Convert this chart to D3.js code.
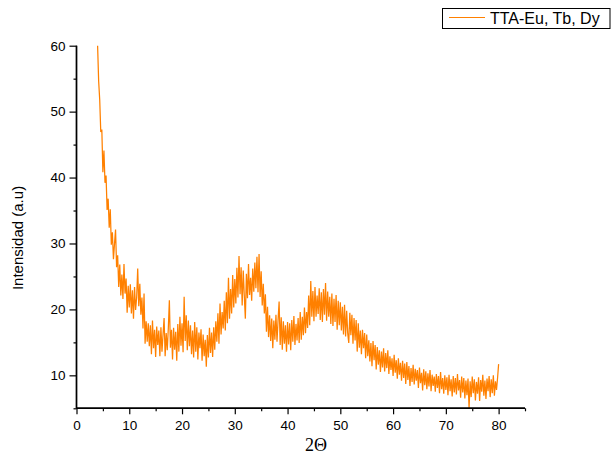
<!DOCTYPE html>
<html><head><meta charset="utf-8">
<script src="https://cdn.jsdelivr.net/npm/d3@7"></script>
<style>body{margin:0;background:#fff}svg{display:block}</style>
</head><body>
<svg id="c" width="611" height="454"></svg>
<script>
const seriesName = "TTA-Eu, Tb, Dy";
const xStart = 4.0, xStep = 0.2;
const intensity = [
60.0,54.6,51.8,46.9,47.3,40.8,44.1,39.2,40.3,35.1,
36.8,32.4,35.2,29.8,31.7,27.6,29.9,32.1,26.4,28.2,
23.4,26.8,22.1,25.3,21.6,26.9,22.4,24.7,19.5,23.6,
20.3,23.8,19.4,22.9,18.6,23.4,19.9,21.8,26.2,20.5,
23.9,19.2,21.8,17.1,22.4,14.8,18.2,15.1,17.9,14.4,
17.6,13.2,18.3,14.1,16.9,12.8,17.4,14.6,16.8,12.9,
17.3,13.6,16.2,18.7,12.9,16.4,13.8,17.1,21.4,14.2,
16.9,12.4,17.2,13.9,16.6,12.2,17.8,13.6,18.9,14.5,
17.9,13.5,21.9,15.2,19.1,13.8,18.3,14.4,17.6,13.2,
16.8,12.7,18.1,13.6,17.3,12.4,16.5,14.1,17.0,12.2,
16.2,12.9,15.4,11.3,16.1,12.7,17.2,13.4,16.5,12.8,
17.3,13.9,18.2,15.1,19.4,14.8,20.9,16.2,19.6,17.1,
21.3,16.8,22.6,17.9,24.8,18.6,23.1,19.4,25.2,20.3,
24.6,20.9,26.3,21.8,28.1,22.3,26.4,20.6,25.9,22.1,
18.6,25.4,21.7,26.9,22.2,24.8,21.3,26.2,22.7,27.1,
23.2,28.0,22.6,28.4,21.9,25.8,20.6,23.9,19.4,22.3,
16.6,20.4,15.8,19.1,15.2,18.6,14.1,18.3,15.4,19.2,
15.1,18.4,21.2,14.6,18.8,13.9,18.2,14.8,17.6,13.6,
18.1,14.7,17.9,13.8,18.4,15.1,19.0,14.6,17.8,15.3,
18.7,14.9,19.6,15.4,18.9,16.1,20.3,16.4,19.6,17.2,
22.1,17.6,24.3,18.9,22.8,18.2,23.4,18.9,22.1,19.3,
23.2,18.4,22.6,18.1,23.1,19.2,24.0,18.3,22.7,18.9,
21.9,17.8,22.4,17.5,21.6,18.1,22.2,16.9,21.3,17.6,
21.1,16.8,20.4,16.2,20.7,15.9,19.8,16.4,14.9,19.5,
16.1,19.2,14.8,18.7,15.3,18.4,13.6,17.9,14.2,16.8,
13.2,16.9,14.1,16.4,12.6,16.2,12.9,15.3,12.1,14.9,
11.4,15.2,12.3,14.6,10.9,14.3,11.6,13.8,10.5,13.6,
11.2,14.1,10.6,13.4,11.1,13.8,10.2,12.9,10.8,12.6,
9.9,13.1,10.4,12.3,9.5,12.6,10.1,11.9,9.2,12.2,
9.6,11.8,8.7,12.0,9.3,11.4,8.4,11.1,9.0,11.6,
8.6,11.0,9.2,10.8,8.1,11.2,8.8,10.4,7.7,10.9,
8.5,10.6,7.9,10.3,8.3,10.8,7.6,10.1,8.4,9.8,
7.5,10.2,8.1,9.9,7.3,10.5,7.9,9.6,7.2,10.0,
7.8,9.7,7.0,10.1,7.6,9.4,6.8,9.9,7.4,9.6,
7.1,10.2,7.7,9.3,6.6,9.8,7.4,9.6,6.5,9.2,
7.0,9.5,5.0,9.1,6.7,9.8,7.3,9.4,6.2,9.0,
7.2,9.7,6.1,9.3,7.5,10.1,6.9,9.2,6.4,9.5,
7.6,9.9,6.7,9.4,7.3,10.0,6.9,9.1,7.8,9.6,
11.7
];
const xMajorTicks = [0,10,20,30,40,50,60,70,80];
const xMinorTicks = [5,15,25,35,45,55,65,75,85];
const yMajorTicks = [10,20,30,40,50,60];
const yMinorTicks = [5,15,25,35,45,55];
const xTitle = "2Θ";
const yTitle = "Intensidad (a.u)";

const data = intensity.map((v,i)=>({x: +(xStart + i*xStep).toFixed(2), y: v}));
const svg = d3.select("#c");
const x = d3.scaleLinear().domain([0,85]).range([76.5,525]);
const y = d3.scaleLinear().domain([5,60]).range([408.3,45.7]);

svg.append("path").datum(data)
  .attr("fill","none").attr("stroke","#FF8000").attr("stroke-width",1.25)
  .attr("stroke-linejoin","miter").attr("stroke-miterlimit",2)
  .attr("d", d3.line().x(d=>x(d.x)).y(d=>y(d.y)));

const font = "'Liberation Sans', Arial, sans-serif";
// x axis
const gx = svg.append("g").attr("transform",`translate(0,${y(5)})`);
gx.call(d3.axisBottom(x).tickValues(xMajorTicks).tickSize(6).tickPadding(6).tickFormat(d3.format("d")));
gx.append("g").call(d3.axisBottom(x).tickValues(xMinorTicks).tickSize(3).tickFormat(""));
// y axis
const gy = svg.append("g").attr("transform",`translate(${x(0)},0)`);
gy.call(d3.axisLeft(y).tickValues(yMajorTicks).tickSize(7).tickPadding(4).tickFormat(d3.format("d")));
gy.append("g").call(d3.axisLeft(y).tickValues(yMinorTicks).tickSize(3).tickFormat(""));
svg.selectAll(".domain").attr("stroke","#000").attr("stroke-width",1.4);
svg.selectAll(".tick line").attr("stroke","#000").attr("stroke-width",1.2);
svg.selectAll(".tick text").attr("font-family",font).attr("font-size",13.5).attr("fill","#000");
gx.selectAll(".domain").attr("d",`M${x(0)},0H${x(85)}`);
gy.selectAll(".domain").attr("d",`M0,${y(60)}V${y(5)}`);

svg.append("text").attr("transform","translate(23,238) rotate(-90)")
  .attr("text-anchor","middle").attr("font-family",font).attr("font-size",15).text(yTitle);
svg.append("text").attr("x",316).attr("y",450.5).attr("text-anchor","middle")
  .attr("font-family","'Liberation Serif','Times New Roman',serif").attr("font-size",18).text(xTitle);

// legend
const lg = svg.append("g");
lg.append("rect").attr("x",442.5).attr("y",8.5).attr("width",167.5).attr("height",20)
  .attr("fill","#fff").attr("stroke","#000").attr("stroke-width",1);
lg.append("line").attr("x1",449).attr("x2",485).attr("y1",17.5).attr("y2",17.5)
  .attr("stroke","#FF8000").attr("stroke-width",1);
lg.append("text").attr("x",490).attr("y",23.5).attr("font-family",font).attr("font-size",16).text(seriesName);
</script>
</body></html>
